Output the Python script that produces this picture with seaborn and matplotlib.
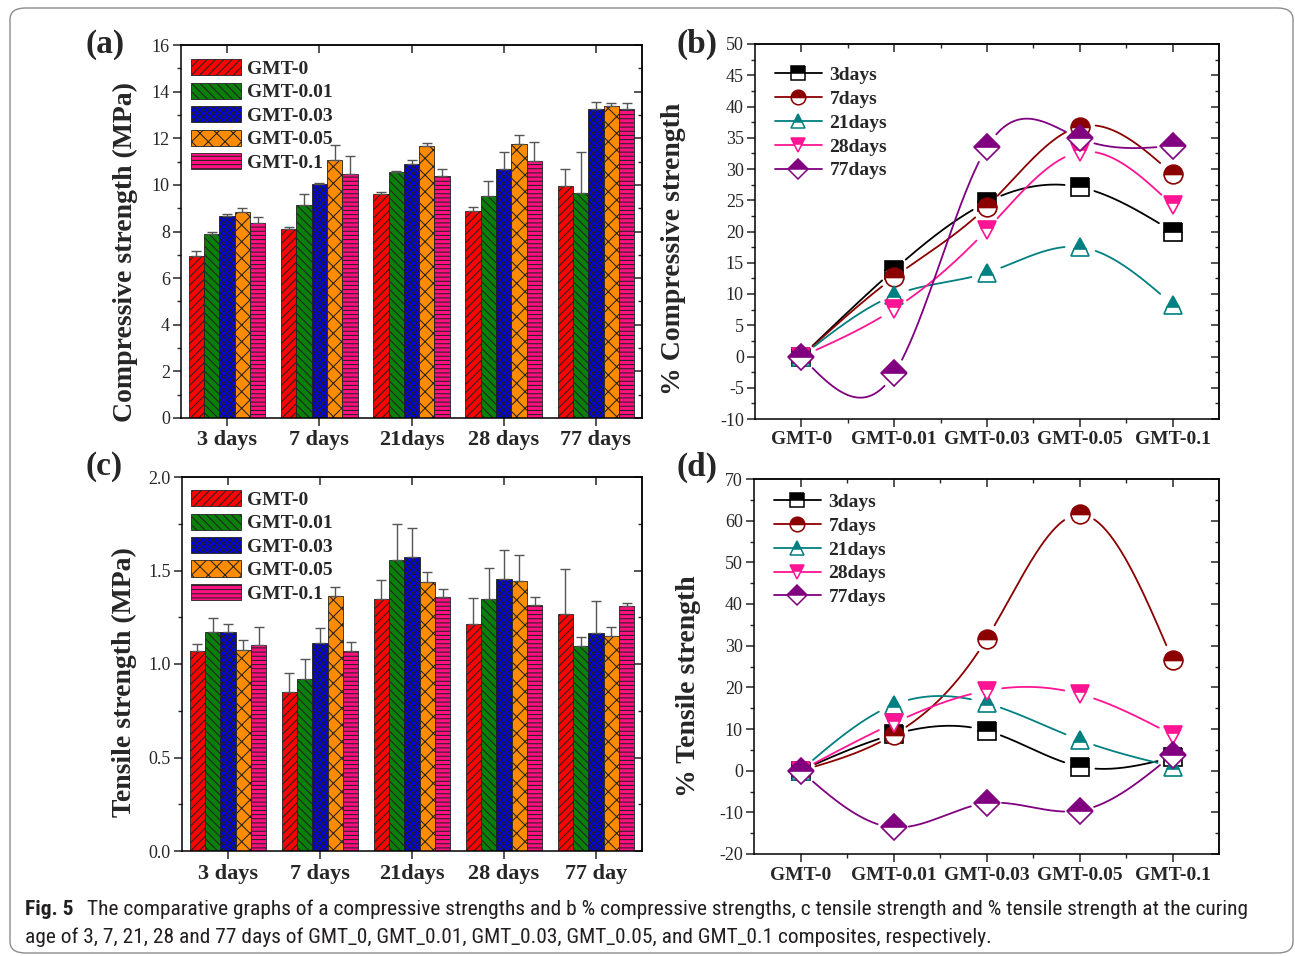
import numpy as np
import pandas as pd
import matplotlib
matplotlib.use("Agg")
import matplotlib.pyplot as plt
import seaborn as sns
from matplotlib.patches import Patch, FancyBboxPatch
from matplotlib.lines import Line2D
from matplotlib.ticker import MultipleLocator, FixedLocator
from matplotlib import font_manager

# ---- data ----
ages = ["3 days", "7 days", "21days", "28 days", "77 days"]
ages_t = ["3 days", "7 days", "21days", "28 days", "77 day"]
samples = ["GMT-0", "GMT-0.01", "GMT-0.03", "GMT-0.05", "GMT-0.1"]
days = ["3days", "7days", "21days", "28days", "77days"]

# compressive strength (MPa), one row per sample, columns = ages
comp_mean = [[6.97, 8.12, 9.63, 8.87, 9.95],
             [7.88, 9.12, 10.55, 9.53, 9.65],
             [8.65, 10.05, 10.88, 10.67, 13.25],
             [8.82, 11.08, 11.65, 11.77, 13.38],
             [8.35, 10.47, 10.40, 11.02, 13.27]]
comp_err = [[0.20, 0.08, 0.08, 0.18, 0.75],
            [0.12, 0.50, 0.05, 0.62, 1.75],
            [0.10, 0.02, 0.18, 0.73, 0.30],
            [0.20, 0.62, 0.15, 0.35, 0.12],
            [0.28, 0.78, 0.30, 0.80, 0.25]]

# tensile strength (MPa)
tens_mean = [[1.07, 0.85, 1.35, 1.215, 1.265],
             [1.17, 0.92, 1.555, 1.35, 1.095],
             [1.17, 1.11, 1.57, 1.455, 1.165],
             [1.075, 1.365, 1.44, 1.445, 1.15],
             [1.10, 1.07, 1.36, 1.315, 1.31]]
tens_err = [[0.035, 0.10, 0.10, 0.14, 0.245],
            [0.075, 0.105, 0.195, 0.165, 0.05],
            [0.045, 0.08, 0.155, 0.155, 0.17],
            [0.055, 0.045, 0.05, 0.14, 0.05],
            [0.10, 0.045, 0.04, 0.045, 0.015]]

# % change, one row per curing age, columns = samples
pct_comp = [[0, 13.9, 24.7, 27.1, 20.0],
            [0, 12.7, 24.0, 36.8, 29.2],
            [0, 9.8, 13.4, 17.5, 8.3],
            [0, 7.6, 20.3, 32.7, 24.2],
            [0, -2.7, 33.5, 34.9, 33.7]]
pct_tens = [[0, 8.7, 9.6, 1.0, 3.2],
            [0, 8.6, 31.6, 61.5, 26.6],
            [0, 15.8, 16.2, 7.4, 1.0],
            [0, 11.4, 19.2, 18.4, 8.6],
            [0, -13.6, -7.8, -9.6, 3.8]]

bar_colors = ["#FF0000", "#0A800A", "#0000E6", "#FF8C00", "#FF1080"]
bar_hatch = ["////", "\\\\\\\\", "xxxxx", "xx", "----"]
line_colors = ["#000000", "#8B0000", "#008080", "#FF1493", "#800080"]
line_markers = ["s", "o", "^", "v", "D"]

sns.set_theme(style="ticks")
plt.rcParams["font.family"] = ["Liberation Serif", "DejaVu Serif"]
plt.rcParams["axes.unicode_minus"] = False
plt.rcParams["axes.linewidth"] = 1.1
plt.rcParams["hatch.linewidth"] = 0.75
plt.rcParams["xtick.major.width"] = 1.1
plt.rcParams["ytick.major.width"] = 1.1
plt.rcParams["xtick.minor.width"] = 1.0
plt.rcParams["ytick.minor.width"] = 1.0


def natural_spline(xs, ys, num=300):
    xs = np.asarray(xs, float)
    ys = np.asarray(ys, float)
    n = len(xs)
    h = np.diff(xs)
    A = np.zeros((n, n))
    b = np.zeros(n)
    A[0, 0] = A[-1, -1] = 1
    for i in range(1, n - 1):
        A[i, i - 1] = h[i - 1]
        A[i, i] = 2 * (h[i - 1] + h[i])
        A[i, i + 1] = h[i]
        b[i] = 6 * ((ys[i + 1] - ys[i]) / h[i] - (ys[i] - ys[i - 1]) / h[i - 1])
    M = np.linalg.solve(A, b)
    t = np.linspace(xs[0], xs[-1], num)
    k = np.clip(np.searchsorted(xs, t) - 1, 0, n - 2)
    x0, x1 = xs[k], xs[k + 1]
    hh = x1 - x0
    y = ((M[k] * (x1 - t) ** 3 + M[k + 1] * (t - x0) ** 3) / (6 * hh)
         + (ys[k] / hh - M[k] * hh / 6) * (x1 - t)
         + (ys[k + 1] / hh - M[k + 1] * hh / 6) * (t - x0))
    return t, y


def frame_ticks(ax, ymaj, ymin, xmin=None):
    ax.yaxis.set_major_locator(MultipleLocator(ymaj))
    ax.yaxis.set_minor_locator(MultipleLocator(ymin))
    ax.tick_params(axis="y", which="major", direction="out", length=6, labelsize=13, pad=2)
    ax.tick_params(axis="y", which="minor", direction="out", length=3)
    ax.tick_params(axis="x", which="major", direction="out", length=6, pad=3)
    ax.tick_params(axis="x", which="minor", direction="out", length=3)
    if xmin is not None:
        ax.xaxis.set_minor_locator(FixedLocator(xmin))
    for s in ax.spines.values():
        s.set_visible(True)
        s.set_color("black")
    r = ax.secondary_yaxis("right")
    r.yaxis.set_major_locator(MultipleLocator(ymaj))
    r.yaxis.set_minor_locator(MultipleLocator(ymin))
    r.tick_params(which="major", direction="in", length=6, labelright=False)
    r.tick_params(which="minor", direction="in", length=3)
    t = ax.secondary_xaxis("top")
    t.xaxis.set_major_locator(FixedLocator(range(5)))
    if xmin is not None:
        t.xaxis.set_minor_locator(FixedLocator(xmin))
    t.tick_params(which="major", direction="in", length=6, labeltop=False)
    t.tick_params(which="minor", direction="in", length=3)


def bar_panel(ax, means, errs, xlabels, ylim, ymaj, ymin, ylabel, lab_xy, leg_xy):
    rows = []
    for si, s in enumerate(samples):
        for ai, a in enumerate(ages):
            rows.append({"age": a, "sample": s, "value": means[si][ai]})
    df = pd.DataFrame(rows)
    sns.barplot(data=df, x="age", y="value", hue="sample", order=ages,
                hue_order=samples, palette=bar_colors, width=0.83,
                errorbar=None, saturation=1, ax=ax, legend=False)
    bars = list(ax.containers)
    for si, cont in enumerate(bars):
        xs = []
        for p in cont.patches:
            p.set_hatch(bar_hatch[si])
            p.set_edgecolor("#222222")
            p.set_linewidth(0.6)
            xs.append(p.get_x() + p.get_width() / 2)
        ax.errorbar(xs, means[si], yerr=[np.zeros(5), errs[si]], fmt="none",
                    ecolor="#555555", elinewidth=1.0, capsize=3.5, capthick=1.0,
                    zorder=1)
    ax.set_xlim(-0.5, 4.5)
    ax.set_ylim(*ylim)
    ax.set_xticks(range(5))
    ax.set_xticklabels(xlabels, fontsize=16, fontweight="bold")
    ax.set_xlabel("")
    ax.set_ylabel(ylabel, fontsize=20, fontweight="bold")
    ax.yaxis.set_label_coords(*lab_xy)
    frame_ticks(ax, ymaj, ymin)
    handles = [Patch(facecolor=bar_colors[i], hatch=bar_hatch[i], edgecolor="#222222",
                     linewidth=0.6, label=samples[i]) for i in range(5)]
    ax.legend(handles=handles, loc="upper left", bbox_to_anchor=leg_xy, frameon=False,
              borderaxespad=0, borderpad=0, handlelength=2.55, handleheight=0.9,
              handletextpad=0.3, labelspacing=0.24,
              prop={"size": 14, "weight": "bold"})


def line_panel(ax, series, ylim, ymaj, ymin, ylabel, lab_xy, leg_xy):
    xpos = np.arange(5)
    ax.set_xlim(-0.5, 4.5)
    ax.set_ylim(*ylim)
    gap = 15  # px of line left blank around each own marker (Origin style)
    for i, vals in enumerate(series):
        t, y = natural_spline(xpos, vals)
        pts = ax.transData.transform(np.column_stack([t, y]))
        mk = ax.transData.transform(np.column_stack([xpos, vals]))
        d = np.min(np.hypot(pts[:, None, 0] - mk[None, :, 0],
                            pts[:, None, 1] - mk[None, :, 1]), axis=1)
        y = np.where(d < gap, np.nan, y)
        ax.plot(t, y, color=line_colors[i], lw=1.3, zorder=2)
    for i, vals in enumerate(series):
        ax.plot(xpos, vals, ls="none", marker=line_markers[i], markersize=13.5,
                fillstyle="top", markerfacecolor=line_colors[i],
                markerfacecoloralt="white", markeredgecolor=line_colors[i],
                markeredgewidth=1.2, zorder=3 + i)
    ax.set_xticks(range(5))
    ax.set_xticklabels(samples, fontsize=14, fontweight="bold")
    ax.set_ylabel(ylabel, fontsize=20, fontweight="bold")
    ax.yaxis.set_label_coords(*lab_xy)
    frame_ticks(ax, ymaj, ymin, xmin=[0.5, 1.5, 2.5, 3.5])
    handles = [Line2D([], [], color=line_colors[i], lw=1.3, marker=line_markers[i],
                      markersize=10.5, fillstyle="top", markerfacecolor=line_colors[i],
                      markerfacecoloralt="white", markeredgecolor=line_colors[i],
                      markeredgewidth=1.1, label=days[i]) for i in range(5)]
    ax.legend(handles=handles, loc="upper left", bbox_to_anchor=leg_xy, frameon=False,
              borderaxespad=0, borderpad=0, handlelength=2.4, handletextpad=0.4,
              labelspacing=0.32, prop={"size": 14, "weight": "bold"})


fig = plt.figure(figsize=(12.95, 9.56), dpi=100)
W, H = 1295, 956


def box(l, t, r, b):
    return [l / W, 1 - b / H, (r - l) / W, (b - t) / H]


ax_a = fig.add_axes(box(181, 45, 642, 418))
ax_b = fig.add_axes(box(755, 44, 1219, 419))
ax_c = fig.add_axes(box(182, 477, 642, 851))
ax_d = fig.add_axes(box(754, 479, 1219, 854))

bar_panel(ax_a, comp_mean, comp_err, ages, (0, 16), 2, 1,
          "Compressive strength (MPa)", (-0.093, 0.445), (0.022, 0.962))
bar_panel(ax_c, tens_mean, tens_err, ages_t, (0, 2.0), 0.5, 0.25,
          "Tensile strength (MPa)", (-0.098, 0.452), (0.02, 0.965))
ax_c.yaxis.set_major_formatter(matplotlib.ticker.FormatStrFormatter("%.1f"))
line_panel(ax_b, pct_comp, (-10, 50), 5, 2.5, "% Compressive strength",
           (-0.149, 0.453), (0.043, 0.94))
line_panel(ax_d, pct_tens, (-20, 70), 10, 5, "% Tensile strength",
           (-0.114, 0.448), (0.043, 0.962))

for lab, x, y in [("(a)", 105, 44), ("(b)", 697, 44), ("(c)", 104, 467), ("(d)", 697, 467)]:
    fig.text(x / W, 1 - y / H, lab, ha="center", va="center", fontsize=24,
             fontweight="bold")

# caption
names = {f.name for f in font_manager.fontManager.ttflist}
cap_font = next((n for n in ["Liberation Sans Narrow", "Roboto Condensed",
                             "Open Sans Condensed"] if n in names), "Noto Sans")
cap1 = ("The comparative graphs of a compressive strengths and b % compressive strengths, "
        "c tensile strength and % tensile strength at the curing")
cap2 = ("age of 3, 7, 21, 28 and 77 days of GMT_0, GMT_0.01, GMT_0.03, GMT_0.05, "
        "and GMT_0.1 composites, respectively.")
renderer = fig.canvas.get_renderer()
probe = fig.text(0, 0, cap1, fontsize=14, family=cap_font)
w1 = probe.get_window_extent(renderer).width
probe.remove()
cap_size = 14 * 1171 / w1
fig.text(25 / W, 1 - 915 / H, "Fig. 5", fontsize=cap_size, family=cap_font,
         fontweight="bold", va="baseline", color="#231F20")
fig.text(87 / W, 1 - 915 / H, cap1, fontsize=cap_size, family=cap_font,
         va="baseline", color="#231F20")
fig.text(25 / W, 1 - 943 / H, cap2, fontsize=cap_size, family=cap_font,
         va="baseline", color="#231F20")

border = FancyBboxPatch((10 / W, 3 / H), (1283 / W), (945 / H),
                        boxstyle="round,pad=0,rounding_size=0.012",
                        transform=fig.transFigure, fill=False,
                        edgecolor="#8C8C8C", linewidth=1.0)
fig.patches.append(border)

fig.savefig("out.png", dpi=100)
